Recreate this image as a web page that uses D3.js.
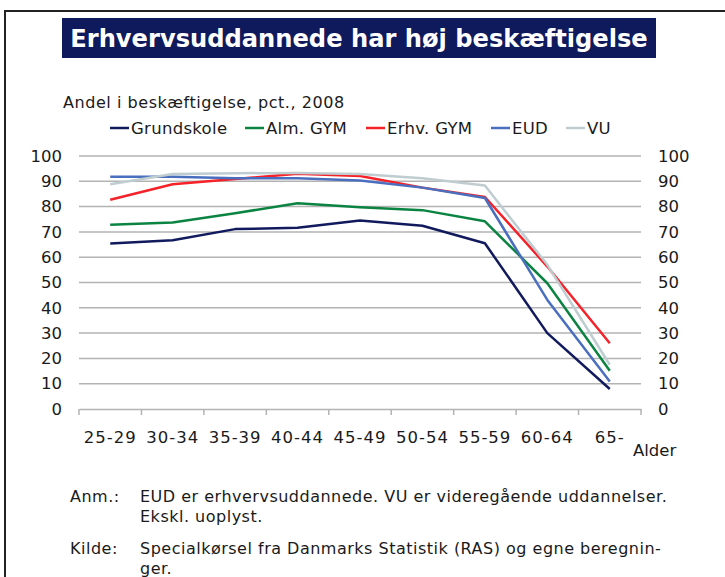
<!DOCTYPE html>
<meta charset="utf-8">
<title>Erhvervsuddannede har høj beskæftigelse</title>
<style>
  body { margin: 0; background: #fff; }
  text { font-family: "DejaVu Sans", Verdana, sans-serif; fill: #1a1a1a; }
</style>
<body>
<svg width="725" height="577"></svg>
<script src="https://d3js.org/d3.v7.min.js"></script>
<script>

// age groups and employment share (pct.) per education
var ages = ["25-29", "30-34", "35-39", "40-44", "45-49", "50-54", "55-59", "60-64", "65-"];
var grundskole = [65.4, 66.7, 71.1, 71.6, 74.5, 72.4, 65.5, 30.0, 7.9];
var almGym     = [72.8, 73.7, 77.4, 81.3, 79.7, 78.6, 74.2, 49.7, 15.1];
var erhvGym    = [82.7, 88.8, 90.9, 93.0, 92.1, 87.5, 83.8, 56.3, 26.0];
var eud        = [91.8, 91.8, 91.2, 91.2, 90.3, 87.5, 83.4, 43.1, 10.9];
var vu         = [88.8, 92.9, 93.2, 93.3, 92.9, 91.2, 88.3, 57.0, 17.5];
var yTicks = [0, 10, 20, 30, 40, 50, 60, 70, 80, 90, 100];

var series = [
  { name: "Grundskole", values: grundskole, color: "#121a5e", lx: 110 },
  { name: "Alm. GYM",   values: almGym,     color: "#0b8442", lx: 245 },
  { name: "Erhv. GYM",  values: erhvGym,    color: "#f5222a", lx: 366 },
  { name: "EUD",        values: eud,        color: "#4a6fbf", lx: 491 },
  { name: "VU",         values: vu,         color: "#bfcdd1", lx: 566 }
];

var svg = d3.select("svg");

// frame
svg.append("path")
  .attr("d", "M5,600 L5,11 L740,11")
  .attr("fill", "none")
  .attr("stroke", "#222")
  .attr("stroke-width", 2);

// title box
svg.append("rect")
  .attr("x", 62).attr("y", 18)
  .attr("width", 594).attr("height", 40)
  .attr("fill", "#0f1a5c");

var title = svg.append("text")
  .attr("x", 359).attr("y", 47)
  .attr("text-anchor", "middle")
  .style("font-weight", "bold")
  .style("font-size", "26px")
  .style("fill", "#fff")
  .text("Erhvervsuddannede har høj beskæftigelse");
var tw = title.node().getComputedTextLength();
title.style("font-size", (26 * 578 / tw) + "px");

svg.append("text")
  .attr("x", 63).attr("y", 108)
  .style("font-size", "16px")
  .style("letter-spacing", "0.55px")
  .text("Andel i beskæftigelse, pct., 2008");

var x = d3.scaleBand().domain(ages).range([79, 641]);
var y = d3.scaleLinear().domain([0, 100]).range([409, 156]);

// gridlines
svg.append("g")
  .selectAll("line")
  .data(yTicks.slice(1))
  .enter().append("line")
  .attr("x1", 79).attr("x2", 641)
  .attr("y1", function(d) { return y(d); })
  .attr("y2", function(d) { return y(d); })
  .attr("stroke", "#b3b3b3")
  .attr("stroke-width", 1.5);

// x axis
var xAxis = svg.append("g")
  .attr("transform", "translate(0," + y(0) + ")")
  .call(d3.axisBottom(x).tickSize(0).tickPadding(22));
xAxis.select(".domain").attr("stroke", "#b3b3b3").attr("stroke-width", 1.5);
xAxis.selectAll("text")
  .style("font-size", "16.5px")
  .style("letter-spacing", "1px")
  .attr("fill", "#1a1a1a");

svg.append("g")
  .selectAll("line")
  .data(ages.concat(["end"]))
  .enter().append("line")
  .attr("x1", function(d, i) { return 79 + i * x.step(); })
  .attr("x2", function(d, i) { return 79 + i * x.step(); })
  .attr("y1", y(0)).attr("y2", y(0) + 6)
  .attr("stroke", "#b3b3b3")
  .attr("stroke-width", 1.5);

// y axes, left and right
var yl = svg.append("g")
  .attr("transform", "translate(79,0)")
  .call(d3.axisLeft(y).tickValues(yTicks).tickSize(0).tickPadding(17));
var yr = svg.append("g")
  .attr("transform", "translate(641,0)")
  .call(d3.axisRight(y).tickValues(yTicks).tickSize(0).tickPadding(17));
[yl, yr].forEach(function(g) {
  g.select(".domain").remove();
  g.selectAll("text").style("font-size", "16.5px").attr("fill", "#1a1a1a");
});

svg.append("text")
  .attr("x", 633).attr("y", 456)
  .style("font-size", "16.5px")
  .text("Alder");

// lines
var line = d3.line()
  .x(function(d, i) { return x(ages[i]) + x.bandwidth() / 2; })
  .y(function(d) { return y(d); });

svg.append("g")
  .selectAll("path")
  .data(series)
  .enter().append("path")
  .attr("d", function(d) { return line(d.values); })
  .attr("fill", "none")
  .attr("stroke", function(d) { return d.color; })
  .attr("stroke-width", 2.5)
  .attr("stroke-linejoin", "round");

// legend
var leg = svg.append("g")
  .selectAll("g")
  .data(series)
  .enter().append("g")
  .attr("transform", function(d) { return "translate(" + d.lx + ",128)"; });
leg.append("line")
  .attr("x1", 0).attr("x2", 19)
  .attr("stroke", function(d) { return d.color; })
  .attr("stroke-width", 2.5);
leg.append("text")
  .attr("x", 21).attr("y", 6)
  .style("font-size", "16.5px")
  .style("letter-spacing", "0.3px")
  .text(function(d) { return d.name; });

// notes
var notes = [
  ["Anm.:", "EUD er erhvervsuddannede. VU er videregående uddannelser.", 502],
  ["", "Ekskl. uoplyst.", 522],
  ["Kilde:", "Specialkørsel fra Danmarks Statistik (RAS) og egne beregnin-", 554],
  ["", "ger.", 574]
];
var nt = svg.append("g").selectAll("g").data(notes).enter().append("g");
nt.append("text")
  .attr("x", 70).attr("y", function(d) { return d[2]; })
  .style("font-size", "16px")
  .style("letter-spacing", "0.5px")
  .text(function(d) { return d[0]; });
nt.append("text")
  .attr("x", 140).attr("y", function(d) { return d[2]; })
  .style("font-size", "16px")
  .style("letter-spacing", "0.5px")
  .text(function(d) { return d[1]; });

</script>
</body>
